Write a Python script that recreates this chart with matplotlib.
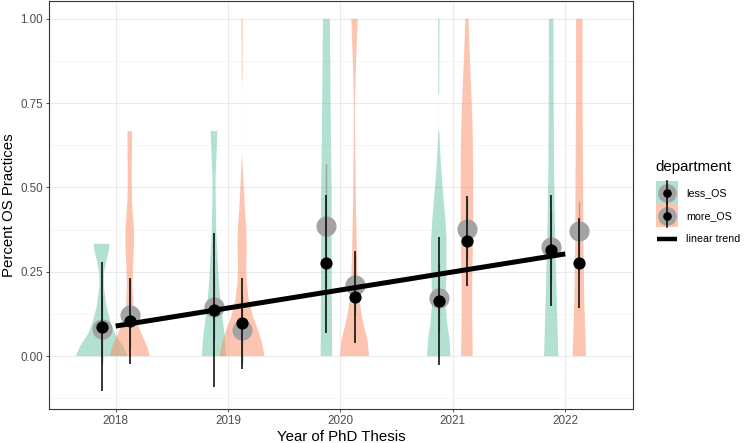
import numpy as np
import matplotlib
matplotlib.use("Agg")
import matplotlib.pyplot as plt
from matplotlib.patches import Rectangle

plt.rcParams['font.family'] = ['Liberation Sans', 'DejaVu Sans']

# ---------------- data ----------------
years = [2018, 2019, 2020, 2021, 2022]
departments = ['less_OS', 'more_OS']

# black points (estimate) with error bars
black_mean_less = [0.087, 0.137, 0.275, 0.163, 0.315]
black_lo_less = [-0.103, -0.093, 0.069, -0.027, 0.148]
black_hi_less = [0.280, 0.364, 0.478, 0.352, 0.478]
black_mean_more = [0.104, 0.097, 0.174, 0.342, 0.277]
black_lo_more = [-0.025, -0.039, 0.038, 0.209, 0.144]
black_hi_more = [0.232, 0.232, 0.312, 0.475, 0.409]

# grey points (raw means) with error bars
gray_mean_less = [0.080, 0.145, 0.387, 0.173, 0.323]
gray_half_less = [0.10, 0.10, 0.182, 0.10, 0.10]
gray_mean_more = [0.122, 0.077, 0.211, 0.378, 0.371]
gray_half_more = [0.10, 0.10, 0.09, 0.09, 0.087]

# linear trend
trend_x = [2018, 2022]
trend_y = [0.089, 0.303]

# violin profiles: y levels and half-widths (x units)
less_2018_y = [0, 0.028, 0.067, 0.107, 0.146, 0.206, 0.245, 0.285, 0.315, 0.333]
less_2018_w = [0.229, 0.193, 0.118, 0.074, 0.044, 0.020, 0.020, 0.044, 0.065, 0.069]
more_2018_y = [0, 0.028, 0.067, 0.107, 0.146, 0.206, 0.265, 0.325, 0.375, 0.424, 0.464, 0.513, 0.562, 0.612, 0.667]
more_2018_w = [0.178, 0.156, 0.104, 0.056, 0.034, 0.025, 0.029, 0.038, 0.038, 0.027, 0.020, 0.018, 0.018, 0.020, 0.020]
less_2019_y = [0, 0.067, 0.117, 0.166, 0.216, 0.285, 0.364, 0.463, 0.523, 0.582, 0.632, 0.667]
less_2019_w = [0.109, 0.093, 0.074, 0.056, 0.044, 0.033, 0.020, 0.015, 0.013, 0.020, 0.027, 0.031]
more_2019_y = [0, 0.039, 0.079, 0.117, 0.166, 0.216, 0.265, 0.325, 0.384, 0.443, 0.503, 0.562, 0.582, 0.60, 0.81, 0.83, 0.91, 1.0]
more_2019_w = [0.200, 0.178, 0.140, 0.096, 0.060, 0.042, 0.036, 0.042, 0.036, 0.024, 0.015, 0.006, 0.003, 0.0003, 0.0003, 0.004, 0.004, 0.006]
less_2020_y = [0, 0.3, 0.5, 0.6, 0.8, 1.0]
less_2020_w = [0.051, 0.047, 0.047, 0.042, 0.036, 0.031]
more_2020_y = [0, 0.048, 0.088, 0.128, 0.177, 0.226, 0.285, 0.364, 0.463, 0.562, 0.66, 0.73, 0.81, 0.88, 0.94, 1.0]
more_2020_w = [0.129, 0.116, 0.085, 0.060, 0.040, 0.029, 0.024, 0.018, 0.012, 0.009, 0.006, 0.004, 0.009, 0.015, 0.022, 0.029]
less_2021_y = [0, 0.048, 0.097, 0.147, 0.196, 0.265, 0.344, 0.413, 0.483, 0.562, 0.611, 0.66, 0.675, 0.77, 0.78, 1.0]
less_2021_w = [0.104, 0.096, 0.074, 0.062, 0.062, 0.069, 0.069, 0.056, 0.038, 0.020, 0.012, 0.006, 0.0004, 0.0004, 0.004, 0.006]
more_2021_y = [0, 0.117, 0.216, 0.364, 0.513, 0.66, 0.76, 0.86, 0.94, 1.0]
more_2021_w = [0.052, 0.047, 0.047, 0.056, 0.056, 0.052, 0.042, 0.029, 0.020, 0.015]
less_2022_y = [0, 0.166, 0.364, 0.562, 0.76, 1.0]
less_2022_w = [0.064, 0.049, 0.034, 0.025, 0.022, 0.020]
more_2022_y = [0, 0.166, 0.364, 0.562, 0.76, 1.0]
more_2022_w = [0.060, 0.044, 0.036, 0.033, 0.029, 0.029]

violins_less = [(less_2018_y, less_2018_w), (less_2019_y, less_2019_w), (less_2020_y, less_2020_w),
                (less_2021_y, less_2021_w), (less_2022_y, less_2022_w)]
violins_more = [(more_2018_y, more_2018_w), (more_2019_y, more_2019_w), (more_2020_y, more_2020_w),
                (more_2021_y, more_2021_w), (more_2022_y, more_2022_w)]

legend_labels = ['less_OS', 'more_OS', 'linear trend']

# ---------------- style ----------------
TEAL = '#66C2A5'
ORANGE = '#FC8D62'
VALPHA = 0.5
GRAYPT = '#A3A3A3'
DODGE = 0.125

fig = plt.figure(figsize=(7.44, 4.43), dpi=100)
ax = fig.add_axes([49 / 744, 34 / 443, (632.7 - 49) / 744, (442 - 34) / 443])

def draw_violin(xc, ys, ws, color):
    ys = np.asarray(ys, float)
    ws = np.asarray(ws, float)
    yy = np.linspace(ys[0], ys[-1], 300)
    ww = np.interp(yy, ys, ws)
    ax.fill_betweenx(yy, xc - ww, xc + ww, facecolor=color, alpha=VALPHA,
                     edgecolor='none', linewidth=0, zorder=2)

for i, yr in enumerate(years):
    draw_violin(yr - DODGE, *violins_less[i], TEAL)
    draw_violin(yr + DODGE, *violins_more[i], ORANGE)

x_less = np.array(years) - DODGE
x_more = np.array(years) + DODGE

# grey points with error bars
for xs, m, h in [(x_less, gray_mean_less, gray_half_less), (x_more, gray_mean_more, gray_half_more)]:
    m = np.array(m); h = np.array(h)
    ax.vlines(xs, m - h, m + h, color='#A0A0A0', linewidth=1.0, zorder=3)
    ax.plot(xs, m, 'o', color=GRAYPT, markersize=14.5, markeredgewidth=0, zorder=4)

# trend line
ax.plot(trend_x, trend_y, color='black', linewidth=3.6, solid_capstyle='butt', zorder=5)

# black points with error bars
for xs, m, lo, hi in [(x_less, black_mean_less, black_lo_less, black_hi_less),
                      (x_more, black_mean_more, black_lo_more, black_hi_more)]:
    ax.vlines(xs, lo, hi, color='black', linewidth=1.1, zorder=6)
    ax.plot(xs, m, 'o', color='black', markersize=8.8, markeredgewidth=0, zorder=7)

# axes
ax.set_xlim(2017.407, 2022.6)
ax.set_ylim(-0.157, 1.053)
ax.set_xticks(years)
ax.set_xticklabels([str(y) for y in years])
ax.set_yticks([0, 0.25, 0.5, 0.75, 1.0])
ax.set_yticklabels(['0.00', '0.25', '0.50', '0.75', '1.00'])
ax.set_yticks([-0.125, 0.125, 0.375, 0.625, 0.875], minor=True)
ax.grid(True, which='major', color='#EBEBEB', linewidth=0.8, zorder=0)
ax.grid(True, which='minor', axis='y', color='#F3F3F3', linewidth=0.5, zorder=0)
ax.set_axisbelow(True)
ax.tick_params(which='major', length=2.5, width=0.6, color='#333333', labelsize=8.4,
               labelcolor='#4D4D4D', pad=2)
ax.tick_params(which='minor', length=0)
for s in ax.spines.values():
    s.set_color('#333333')
    s.set_linewidth(0.8)

ax.set_xlabel('Year of PhD Thesis', fontsize=10.8, color='black', labelpad=2)
ax.set_ylabel('Percent OS Practices', fontsize=10.8, color='black', labelpad=3)

# ---------------- legend (drawn in figure pixel space) ----------------
lg = fig.add_axes([0, 0, 1, 1], facecolor='none')
lg.set_xlim(0, 744)
lg.set_ylim(443, 0)
lg.axis('off')

lg.text(655, 167, 'department', fontsize=10.8, ha='left', va='center')
key_x0, key_w, key_h = 656, 22, 22.5
row_y = [192.7, 215.7, 239.3]
for yc, col in zip(row_y[:2], [TEAL, ORANGE]):
    lg.add_patch(Rectangle((key_x0, yc - key_h / 2), key_w, key_h, facecolor=col,
                           alpha=VALPHA, edgecolor='none'))
    xc = key_x0 + key_w / 2
    lg.plot([xc], [yc], 'o', color=GRAYPT, markersize=13.4, markeredgewidth=0)
    lg.plot([xc, xc], [yc - key_h / 2, yc + key_h / 2], color='black', linewidth=1.1)
    lg.plot([xc], [yc], 'o', color='black', markersize=6.2, markeredgewidth=0)
lg.plot([key_x0 + 1, key_x0 + key_w - 1.5], [row_y[2], row_y[2]], color='black',
        linewidth=3.2, solid_capstyle='butt')
for yc, lab in zip(row_y, legend_labels):
    lg.text(686, yc, lab, fontsize=7.7, ha='left', va='center')

fig.savefig('out.png', dpi=100)
